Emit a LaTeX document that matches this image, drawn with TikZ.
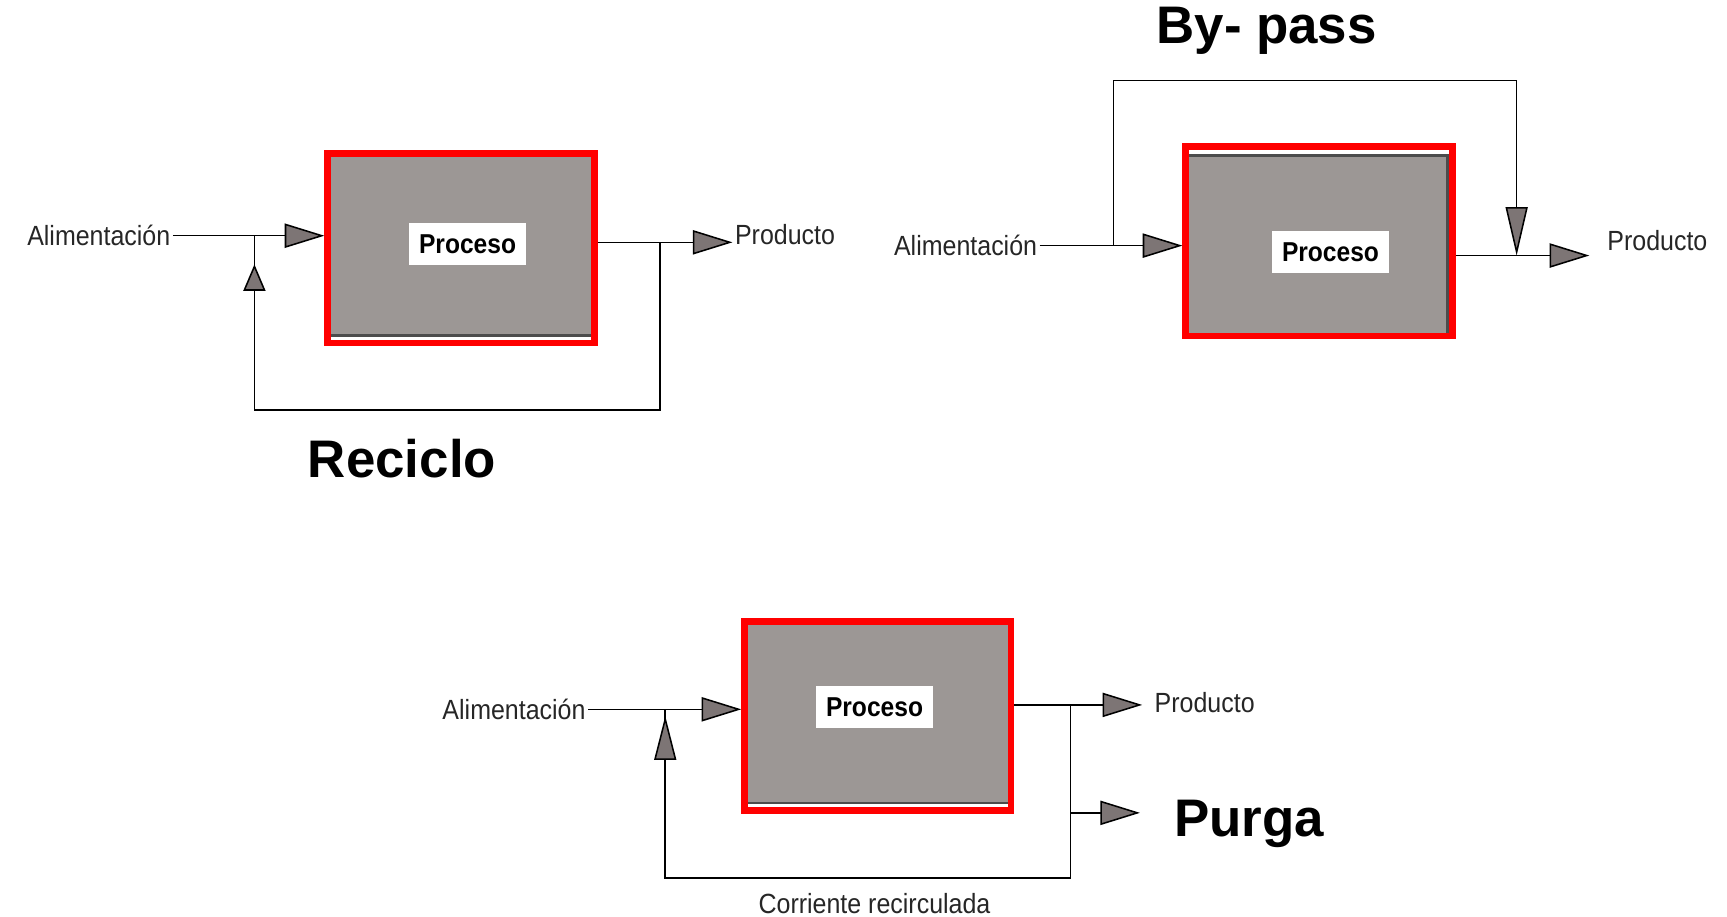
\documentclass[tikz,border=0pt]{standalone}
\usepackage{fontspec}
\setmainfont{Liberation Sans}
\newfontfamily\narrowsans[FakeStretch=0.9]{Liberation Sans}
\usetikzlibrary{arrows.meta,calc}
\definecolor{procgray}{RGB}{156,151,149}
\definecolor{arrgray}{RGB}{125,117,117}
\definecolor{framered}{RGB}{255,0,0}
\tikzset{
  every node/.style={inner sep=1pt},
  txt/.style={font=\narrowsans\fontsize{12.6}{14}\selectfont, text=black!85},
  big/.style={font=\fontsize{24}{28}\selectfont\bfseries},
  procbox/.style={draw=framered, line width=3pt, fill=procgray, minimum width=121pt, minimum height=86pt, inner sep=0pt, outer sep=0pt},
  plabel/.style={fill=white, font=\narrowsans\fontsize{12.4}{14}\selectfont\bfseries, minimum width=53pt, minimum height=19pt},
  wire/.style={draw=black, line width=0.7pt},
  flow/.style={wire, -{Triangle[length=18pt,width=11pt,fill=arrgray]}},
  flowv/.style={wire, -{Triangle[length=#1,width=10pt,fill=arrgray]}},
}
\begin{document}
\begin{tikzpicture}[x=0.5pt,y=-0.5pt]
\useasboundingbox (0,0) rectangle (1568,832);

% ---------- Reciclo ----------
\node[procbox] (p1) at (418.5,225.5) {};
\fill[white] ($(p1.south west)+(3,-3)$) rectangle ($(p1.south east)+(-3,-6)$);
\draw[line width=1.2pt, black!70] ($(p1.south west)+(3,-7)$) -- ($(p1.south east)+(-3,-7)$);
\node[plabel] (l1) at (424.5,221.5) {Proceso};
\node[txt, anchor=east] (a1) at (157,214) {Alimentación};
\node[txt, anchor=west] (pr1) at (665,213) {Producto};
\coordinate (j1) at (231,214);
\coordinate (o1) at (599,220);
\coordinate (c1a) at (599,372);
\coordinate (c1b) at (231,372);
\coordinate (u1s) at (231,264);
\coordinate (u1t) at (231,240);
\draw[flow, shorten >=1.5pt] (a1.east) -- (a1.east -| p1.west);
\draw[flow, shorten <=1.5pt] (p1.east |- o1) -- (pr1.west |- o1);
\draw[wire] (o1) -- (c1a) -- (c1b) -- (j1);
\draw[flowv=12pt] (u1s) -- (u1t);
\node[big] (t1) at (365,416) {Reciclo};

% ---------- By-pass ----------
\node[procbox] (p2) at (1197.5,219) {};
\fill[white] ($(p2.north west)+(3,3)$) rectangle ($(p2.north east)+(-3,7)$);
\draw[line width=1.2pt, black!70] ($(p2.north west)+(3,8)$) -- ($(p2.north east)+(-3,8)$);
\draw[line width=1.2pt, black!70] ($(p2.north east)+(-4,8)$) -- ($(p2.south east)+(-4,-3)$);
\node[plabel] (l2) at (1208,229) {Proceso};
\node[txt, anchor=east] (a2) at (944,223) {Alimentación};
\node[txt, anchor=west] (pr2) at (1457,218) {Producto};
\coordinate (j2) at (1011,223);
\coordinate (b2a) at (1011,73);
\coordinate (b2b) at (1377,73);
\coordinate (m2) at (1377,232);
\draw[flow, shorten >=1.5pt] (a2.east) -- (a2.east -| p2.west);
\draw[flowv=22pt] (j2) -- (b2a) -- (b2b) -- (m2);
\draw[flow, shorten <=1.5pt, shorten >=7pt] (p2.east |- m2) -- (pr2.west |- m2);
\node[big] (t2) at (1150,28) {By- pass};

% ---------- Purga ----------
\node[procbox] (p3) at (797,650) {};
\fill[white] ($(p3.south west)+(3,-3)$) rectangle ($(p3.south east)+(-3,-6)$);
\draw[line width=1.2pt, black!70] ($(p3.south west)+(3,-7)$) -- ($(p3.south east)+(-3,-7)$);
\node[plabel] (l3) at (794,642) {Proceso};
\node[txt, anchor=east] (a3) at (534,644) {Alimentación};
\node[txt, anchor=west] (pr3) at (1046,638) {Producto};
\coordinate (j3) at (604,644);
\coordinate (o3) at (972,640);
\coordinate (g3) at (972,738);
\coordinate (e3) at (1035,738);
\coordinate (c3a) at (972,797);
\coordinate (c3b) at (604,797);
\coordinate (u3s) at (604,690);
\coordinate (u3t) at (604,650);
\draw[flow, shorten >=1.5pt] (a3.east) -- (a3.east -| p3.west);
\draw[flow, shorten <=1.5pt, shorten >=4.5pt] (p3.east |- o3) -- (pr3.west |- o3);
\draw[flow] (g3) -- (e3);
\draw[wire] (o3) -- (c3a) -- (c3b) -- (j3);
\draw[flowv=20pt] (u3s) -- (u3t);
\node[big] (t3) at (1134,748) {Purga};
\node[txt] (cr) at (794,820) {Corriente recirculada};
\end{tikzpicture}
\end{document}
